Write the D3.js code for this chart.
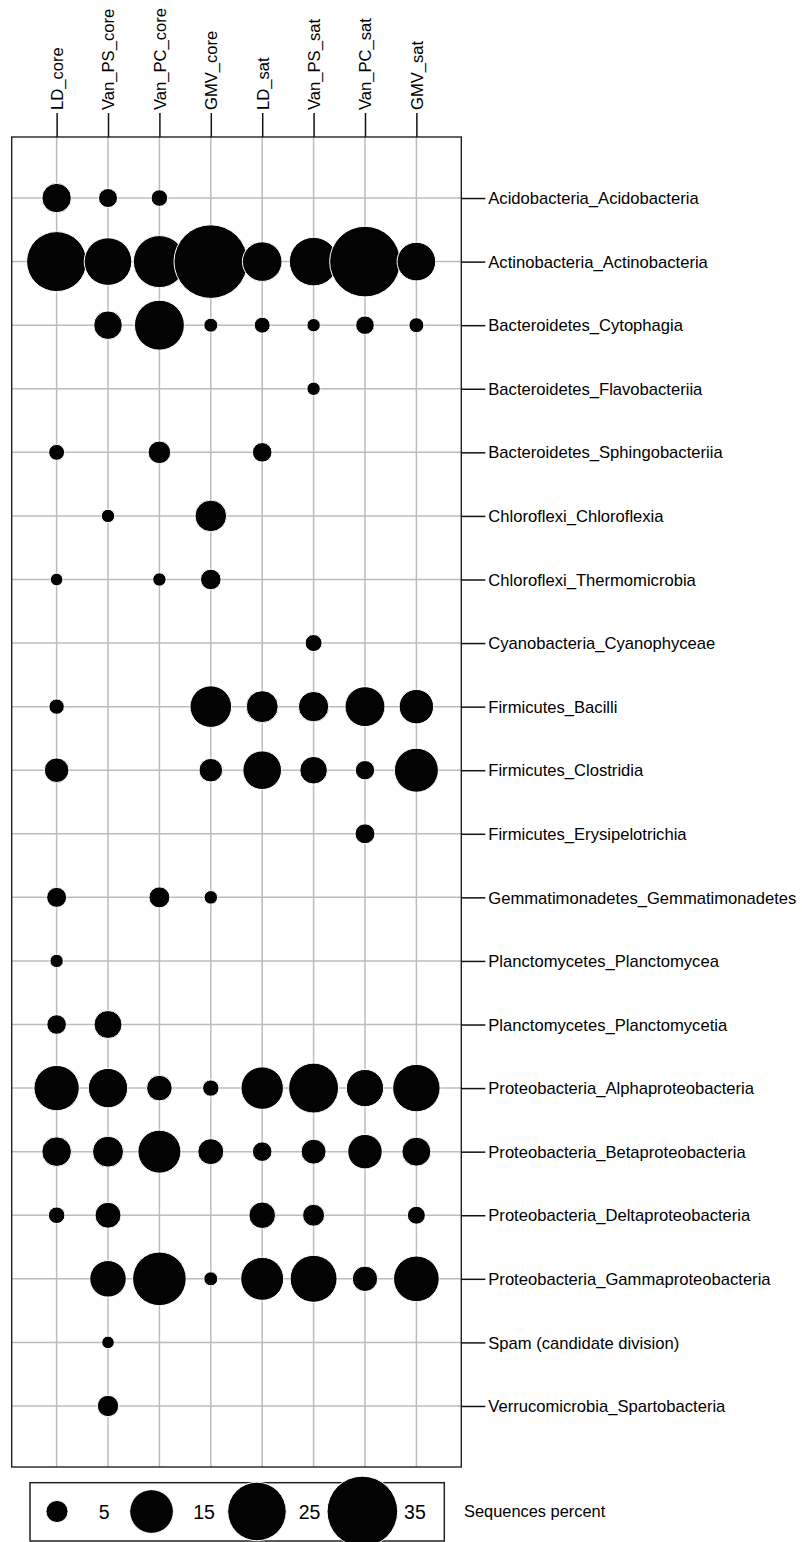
<!DOCTYPE html>
<html>
<head>
<meta charset="utf-8">
<script src="https://cdn.jsdelivr.net/npm/d3@7"></script>
<style>
  html, body { margin: 0; padding: 0; background: #fff; }
  svg { display: block; font-family: "Liberation Sans", Arial, Helvetica, sans-serif; }
</style>
</head>
<body>
<svg id="chart" width="802" height="1542"></svg>
<script>
// ---- data ----
const samples = ["LD_core", "Van_PS_core", "Van_PC_core", "GMV_core", "LD_sat", "Van_PS_sat", "Van_PC_sat", "GMV_sat"];
const taxa = [
  "Acidobacteria_Acidobacteria",
  "Actinobacteria_Actinobacteria",
  "Bacteroidetes_Cytophagia",
  "Bacteroidetes_Flavobacteriia",
  "Bacteroidetes_Sphingobacteriia",
  "Chloroflexi_Chloroflexia",
  "Chloroflexi_Thermomicrobia",
  "Cyanobacteria_Cyanophyceae",
  "Firmicutes_Bacilli",
  "Firmicutes_Clostridia",
  "Firmicutes_Erysipelotrichia",
  "Gemmatimonadetes_Gemmatimonadetes",
  "Planctomycetes_Planctomycea",
  "Planctomycetes_Planctomycetia",
  "Proteobacteria_Alphaproteobacteria",
  "Proteobacteria_Betaproteobacteria",
  "Proteobacteria_Deltaproteobacteria",
  "Proteobacteria_Gammaproteobacteria",
  "Spam (candidate division)",
  "Verrucomicrobia_Spartobacteria"
];
// sequences percent per sample, in taxa order (null = absent)
const LD_core     = [7.79, 26.1, null, null, 3.15, null, 2.30, null, 2.99, 5.89, null, 4.32, 2.49, 4.20, 16.0, 7.87, 3.32, null, null, null];
const Van_PS_core = [4.01, 17.4, 7.45, null, null, 2.49, null, null, null, null, null, null, null, 7.21, 12.6, 8.48, 6.42, 11.1, 2.30, 4.77];
const Van_PC_core = [3.32, 20.3, 18.9, null, 5.18, null, 2.49, null, null, null, null, 4.64, null, null, 6.27, 14.6, null, 21.4, null, null];
const GMV_core    = [null, 37.7, 2.64, null, null, 8.75, 4.51, null, 13.8, 5.53, null, 2.54, null, null, 3.26, 6.42, null, 2.64, null, null];
const LD_sat      = [null, 12.7, 3.15, null, 4.20, null, null, null, 8.93, 12.2, null, null, null, null, 14.3, 4.20, 6.65, 14.6, null, null];
const Van_PS_sat  = [null, 18.0, 2.49, 2.49, null, null, null, 3.43, 8.22, 7.05, null, null, null, null, 18.9, 6.04, 4.97, 17.0, null, null];
const Van_PC_sat  = [null, 35.0, 3.89, null, null, null, null, null, 12.9, 4.13, 4.32, null, null, null, 11.5, 10.1, null, 6.19, null, null];
const GMV_sat     = [null, 12.2, 2.89, null, null, null, null, null, 10.1, 15.2, null, null, null, null, 17.3, 7.62, 3.71, 16.2, null, null];
const legendValues = [5, 15, 25, 35];
const legendTitle = "Sequences percent";

const seriesBySample = { LD_core, Van_PS_core, Van_PC_core, GMV_core, LD_sat, Van_PS_sat, Van_PC_sat, GMV_sat };
const cells = [];
samples.forEach(s => {
  seriesBySample[s].forEach((v, i) => {
    if (v != null) cells.push({ sample: s, taxon: taxa[i], value: v });
  });
});

// ---- layout ----
const box = { x0: 11.7, x1: 461.3, y0: 137, y1: 1467 };
const svg = d3.select("#chart");
svg.append("rect").attr("width", 802).attr("height", 1542).attr("fill", "#fff");

const x = d3.scalePoint().domain(samples).range([box.x0, box.x1]).padding(0.874);
const y = d3.scalePoint().domain(taxa).range([box.y0, box.y1]).padding(0.96);
const r = d3.scaleSqrt().domain([5, 35]).range([11.04, 35.33]);

// panel background + grid
svg.append("rect")
  .attr("x", box.x0).attr("y", box.y0)
  .attr("width", box.x1 - box.x0).attr("height", box.y1 - box.y0)
  .attr("fill", "#fff");

const grid = svg.append("g").attr("stroke", "#bcbcbc").attr("stroke-width", 1.5);
grid.selectAll("line.v").data(samples).join("line")
  .attr("class", "v")
  .attr("x1", d => x(d)).attr("x2", d => x(d))
  .attr("y1", box.y0).attr("y2", box.y1);
grid.selectAll("line.h").data(taxa).join("line")
  .attr("class", "h")
  .attr("x1", box.x0).attr("x2", box.x1)
  .attr("y1", d => y(d)).attr("y2", d => y(d));

// bubbles
svg.append("g").selectAll("circle").data(cells).join("circle")
  .attr("cx", d => x(d.sample))
  .attr("cy", d => y(d.taxon))
  .attr("r", d => r(d.value))
  .attr("fill", "#030303")
  .attr("stroke", "#fff")
  .attr("stroke-width", 1);

// panel border
svg.append("rect")
  .attr("x", box.x0).attr("y", box.y0)
  .attr("width", box.x1 - box.x0).attr("height", box.y1 - box.y0)
  .attr("fill", "none").attr("stroke", "#222").attr("stroke-width", 1.4);

// top axis
const topAxis = svg.append("g")
  .attr("transform", `translate(0,${box.y0})`)
  .call(d3.axisTop(x).tickSize(24).tickSizeOuter(0));
topAxis.select(".domain").remove();
topAxis.selectAll(".tick line").attr("stroke", "#111").attr("stroke-width", 1.5);
topAxis.selectAll(".tick text")
  .attr("transform", "rotate(-90)")
  .attr("x", 27).attr("y", 0).attr("dy", "0.35em")
  .style("text-anchor", "start")
  .attr("fill", "#000")
  .style("font-size", "16.6px");
topAxis.attr("font-family", null).attr("font-size", null);

// right axis
const rightAxis = svg.append("g")
  .attr("transform", `translate(${box.x1},0)`)
  .call(d3.axisRight(y).tickSize(24).tickPadding(3).tickSizeOuter(0));
rightAxis.select(".domain").remove();
rightAxis.selectAll(".tick line").attr("stroke", "#111").attr("stroke-width", 1.5);
rightAxis.selectAll(".tick text")
  .attr("fill", "#000")
  .attr("dy", "0.34em")
  .style("font-size", "16.6px");
rightAxis.attr("font-family", null).attr("font-size", null);

// legend
const lg = svg.append("g");
const legBox = { x: 30, y: 1482.7, w: 414.3, h: 58.3 };
lg.append("rect")
  .attr("x", legBox.x).attr("y", legBox.y)
  .attr("width", legBox.w).attr("height", legBox.h)
  .attr("fill", "#fff").attr("stroke", "#222").attr("stroke-width", 1.5);
const legCy = 1511.5;
let cx = 57;
legendValues.forEach(v => {
  lg.append("circle")
    .attr("cx", cx).attr("cy", legCy)
    .attr("r", r(v))
    .attr("fill", "#030303")
    .attr("stroke", "#fff")
    .attr("stroke-width", 1);
  const t = lg.append("text")
    .attr("x", cx + 41.7).attr("y", 1519.3)
    .style("font-size", "19.5px")
    .attr("fill", "#000")
    .text(v);
  const w = t.node().getComputedTextLength();
  cx = cx + 41.7 + w + 42;
});
lg.append("text")
  .attr("x", 464).attr("y", legCy)
  .attr("dy", "0.36em")
  .style("font-size", "16.4px")
  .attr("fill", "#000")
  .text(legendTitle);
</script>
</body>
</html>
